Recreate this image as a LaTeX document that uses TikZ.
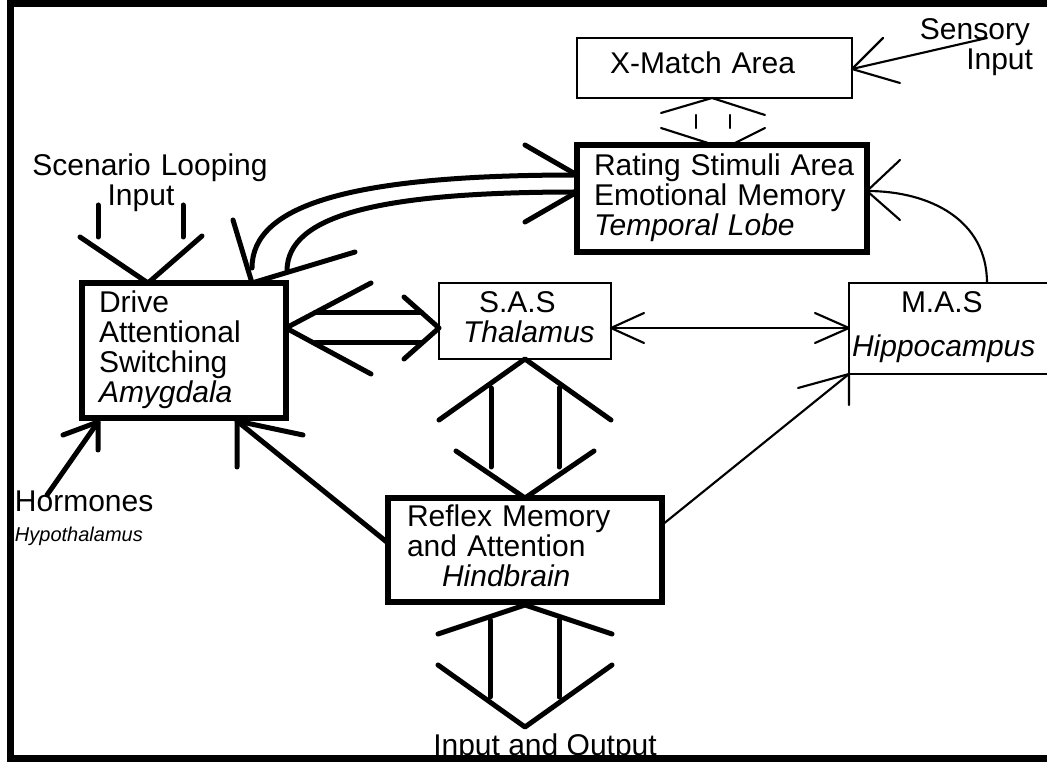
\documentclass[tikz,border=0pt]{standalone}
\usepackage{fontspec}
\setmainfont{Liberation Sans}
\usetikzlibrary{calc}
\newcommand\mainsize{\fontsize{22.5pt}{22.5pt}\selectfont}
\newcommand\hyposize{\fontsize{15pt}{15pt}\selectfont}
\tikzset{
  basebox/.style={inner sep=0pt, outer sep=0pt, align=left, anchor=north west, font=\mainsize},
  thickbox/.style={basebox, draw, line width=4.8pt},
  thinbox/.style={basebox, draw, line width=1.9pt},
  heavy/.style={line width=3.75pt, line cap=round, line join=round},
  light/.style={line width=1.6pt, line cap=round, line join=round},
  lbl/.style={inner sep=0pt, outer sep=0pt, font=\mainsize},
}
\begin{document}
\begin{tikzpicture}[x=0.75pt,y=-0.75pt]
\useasboundingbox (0,0) rectangle (1047,766);
\fill[white] (0,0) rectangle (1047,766);
\clip (0,0) rectangle (1047,766);

% boxes (each text ends its own paragraph so the left indent holds for every line)
\node[thickbox, text width=153pt, minimum height=101.25pt, text height=22.5pt, text depth=78.75pt]
  (drive) at (82,283) {\leftskip=12.75pt Drive\\Attentional\\Switching\\\textit{Amygdala}\par};
\node[thickbox, text width=217.5pt, minimum height=80.25pt, text height=23.25pt, text depth=57pt]
  (rating) at (577,145) {\leftskip=12.75pt Rating Stimuli Area\\Emotional Memory\\\textit{Temporal Lobe}\par};
\node[thinbox, text width=129pt, minimum height=57pt, text height=22.5pt, text depth=34.5pt]
  (sas) at (439,283) {\leftskip=18pt\hspace*{12pt}S.A.S\\\textit{Thalamus}\par};
\node[thinbox, text width=187.5pt, minimum height=68.25pt, text height=22.5pt, text depth=45.75pt]
  (mas) at (849,283) {\leftskip=2.25pt\hspace*{36.75pt}M.A.S\\[10.5pt]\textit{Hippocampus}\par};
\node[thickbox, text width=205.5pt, minimum height=78pt, text height=21.75pt, text depth=56.25pt]
  (reflex) at (388,498) {\leftskip=14.25pt Reflex Memory\\and Attention\\\hspace*{26.25pt}\textit{Hindbrain}\par};
\node[thinbox, text width=206.25pt, minimum height=45pt, text height=27pt, text depth=18pt]
  (xmatch) at (577,38) {\leftskip=24.75pt X-Match Area\par};

% free labels
\node[lbl, text width=195pt, align=center, anchor=base] (scen) at (150,176) {Scenario Looping\\Input\kern13.5pt};
\node[lbl, text width=120pt, align=right, anchor=base east] (sens) at (1033,40) {Sensory\kern2.25pt\\Input};
\node[lbl, anchor=base west] (horm) at (15,512) {Hormones};
\node[lbl, anchor=base west, font=\hyposize\itshape] (hypo) at (15,542) {Hypothalamus};
\node[lbl, anchor=base] (io) at (545,755) {Input and Output};

% scenario looping input into Drive
\coordinate (sT) at ($(drive.north west)+(66,0)$);
\draw[heavy] ($(sT)+(-68,-46)$) -- (sT) -- ($(sT)+(54,-47)$);
\draw[heavy] ($(sT)+(-50,-78)$) -- ($(sT)+(-50,-46)$);
\draw[heavy] ($(sT)+(35,-78)$) -- ($(sT)+(35,-46)$);

% curved two-way link Drive <-> Rating
\coordinate (cT) at ($(drive.north west)+(170,0)$);
\draw[heavy] ($(cT)+(-19,-63)$) -- (cT) -- ($(cT)+(103,-31)$);
\draw[heavy] ($(cT)+(0,-15)$) .. controls ($(cT)+(0,-78)$) and ($(rating.north west)+(-227,30)$) .. ($(rating.north west)+(0,30)$);
\draw[heavy] ($(cT)+(35,-12)$) .. controls ($(cT)+(35,-68)$) and ($(rating.north west)+(-197,47)$) .. ($(rating.north west)+(0,47)$);
\draw[heavy] ($(rating.north west)+(-52,0)$) -- ($(rating.north west)+(0,30)$);
\draw[heavy] ($(rating.north west)+(-52,77)$) -- ($(rating.north west)+(0,47)$);

% Drive <-> SAS
\coordinate (dL) at ($(drive.north east)+(0,45)$);
\coordinate (dR) at ($(sas.north west)+(0,45)$);
\draw[heavy] ($(dL)+(85,-45)$) -- (dL) -- ($(dL)+(85,46)$);
\draw[heavy] ($(dR)+(-35,-31)$) -- (dR) -- ($(dR)+(-35,31)$);
\draw[heavy] ($(dL)+(29,-15)$) -- ($(dR)+(-17,-15)$);
\draw[heavy] ($(dL)+(29,15)$) -- ($(dR)+(-17,15)$);

% SAS <-> MAS
\coordinate (mL) at ($(sas.north east)+(0,45)$);
\coordinate (mR) at ($(mas.north west)+(0,45)$);
\draw[light] (mL) -- (mR);
\draw[light] ($(mL)+(33,-15)$) -- (mL) -- ($(mL)+(33,15)$);
\draw[light] ($(mR)+(-34,-15)$) -- (mR) -- ($(mR)+(-34,15)$);

% MAS -> Rating
\coordinate (rT) at ($(rating.north east)+(0,46)$);
\draw[light] ($(mas.north west)+(138,0)$) .. controls ($(mas.north west)+(138,-63)$) and ($(rT)+(63,0)$) .. (rT);
\draw[light] ($(rT)+(33,-31)$) -- (rT) -- ($(rT)+(33,29)$);

% X-Match <-> Rating
\coordinate (xT) at ($(xmatch.south west)+(135,0)$);
\coordinate (xB) at ($(rating.north west)+(135,0)$);
\draw[light] ($(xT)+(-51,15)$) -- (xT) -- ($(xT)+(53,17)$);
\draw[light] ($(xB)+(-51,-17)$) -- ($(xB)+(-4,-2)$);
\draw[light] ($(xB)+(53,-17)$) -- ($(xB)+(23,-2)$);
\draw[light] ($(xT)+(-16,17)$) -- ($(xT)+(-16,30)$);
\draw[light] ($(xT)+(18,17)$) -- ($(xT)+(18,30)$);

% sensory input into X-Match
\coordinate (sxT) at ($(xmatch.north east)+(0,31)$);
\draw[light] ($(sens.base east)+(-46,-2)$) -- (sxT);
\draw[light] ($(sxT)+(31,-31)$) -- (sxT) -- ($(sxT)+(48,14)$);

% Reflex -> MAS
\coordinate (hmT) at (mas.south west);
\draw[light] ($(reflex.north east)+(0,27)$) -- (hmT);
\draw[light] ($(hmT)+(-51,14)$) -- (hmT) -- ($(hmT)+(0,31)$);

% Reflex -> Drive
\coordinate (rdT) at ($(drive.south west)+(155,3)$);
\draw[heavy] ($(reflex.north west)+(0,45)$) -- (rdT);
\draw[heavy] ($(rdT)+(0,46)$) -- (rdT) -- ($(rdT)+(66,14)$);

% Hormones -> Drive
\coordinate (hdT) at ($(drive.south west)+(16,4)$);
\draw[heavy] ($(horm.base west)+(32,-17)$) -- (hdT);
\draw[heavy] ($(hdT)+(0,28)$) -- (hdT) -- ($(hdT)+(-35,13)$);

% SAS <-> Reflex
\coordinate (vT) at ($(sas.south west)+(86,0)$);
\coordinate (vB) at ($(reflex.north west)+(137,0)$);
\draw[heavy] ($(vT)+(-86,61)$) -- (vT) -- ($(vT)+(86,61)$);
\draw[heavy] ($(vB)+(-69,-47)$) -- (vB) -- ($(vB)+(69,-47)$);
\draw[heavy] ($(vT)+(-34,29)$) -- ($(vB)+(-34,-31)$);
\draw[heavy] ($(vT)+(34,29)$) -- ($(vB)+(34,-31)$);

% Reflex <-> Input and Output
\coordinate (oT) at ($(reflex.south west)+(137,3)$);
\coordinate (oB) at ($(io.base)+(-20,-28)$);
\draw[heavy] ($(oT)+(-87,29)$) -- (oT) -- ($(oT)+(87,29)$);
\draw[heavy] ($(oB)+(-87,-62)$) -- (oB) -- ($(oB)+(87,-62)$);
\draw[heavy] ($(oT)+(-35,15)$) -- ($(oB)+(-35,-30)$);
\draw[heavy] ($(oT)+(34,15)$) -- ($(oB)+(34,-30)$);

% frame
\draw[line width=5.25pt] (10,4) rectangle (1090,758);
\end{tikzpicture}
\end{document}
